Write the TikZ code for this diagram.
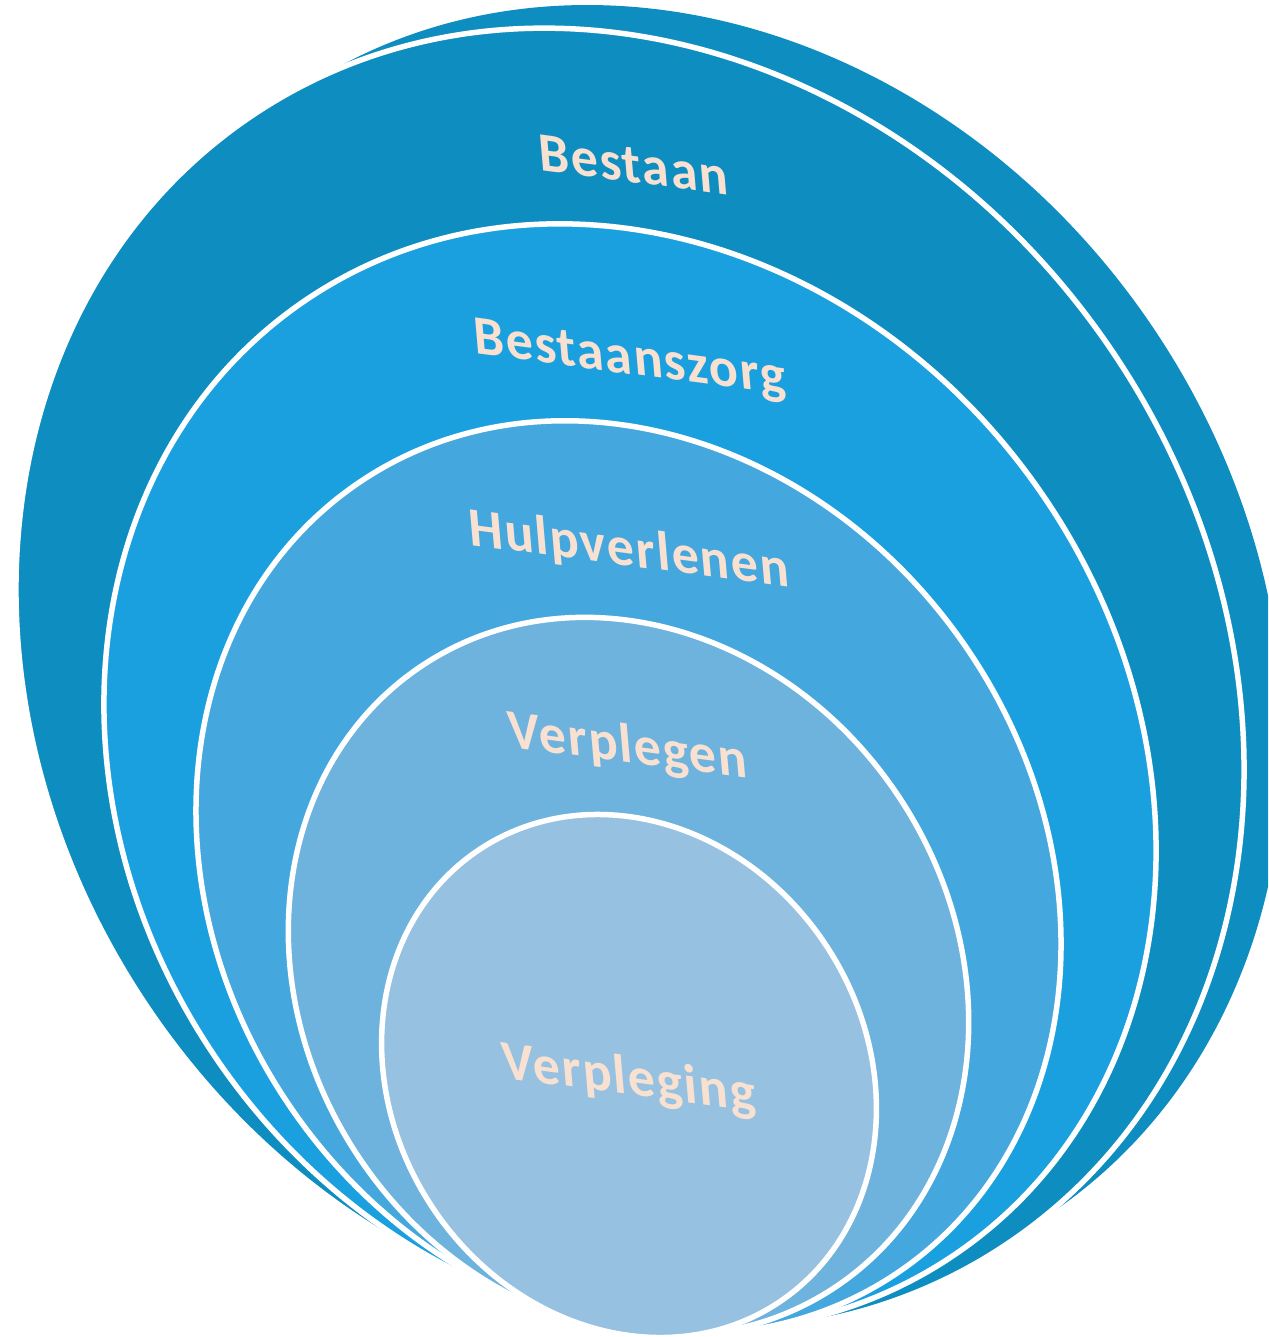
\documentclass[tikz,border=0pt]{standalone}
\usepackage{fontspec}
\newfontfamily\ringfont[LetterSpace=3]{Carlito}
\usetikzlibrary{shapes.geometric}

\definecolor{bestaancol}{HTML}{0E8DC0}
\definecolor{zorgcol}{HTML}{1BA0DF}
\definecolor{hulpcol}{HTML}{44A7DE}
\definecolor{verplegencol}{HTML}{6EB2DE}
\definecolor{verplegingcol}{HTML}{96C1E0}
\definecolor{labelcol}{HTML}{F9E1D2}

\tikzset{
  ring/.style={ellipse, draw=white, line width=0.11cm, inner sep=0pt},
  ringtext/.style={text=labelcol, font=\ringfont\bfseries\fontsize{31}{31}\selectfont,
    rotate=-7.5, xslant=-0.22}
}

\begin{document}
\begin{tikzpicture}[x=0.02cm,y=-0.02cm]
                \useasboundingbox (0,0) rectangle (1268,1337);
                \clip (0,0) rectangle (1268,1337);

                \node[ring, draw=none, fill=bestaancol, minimum width=23.19cm, minimum height=27.03cm, rotate=33.5] (back) at (673.4,653) {};
                \node[ring, fill=bestaancol, minimum width=23.34cm, minimum height=27.16cm, rotate=33.5] (bestaanring) at (630,679.5) {};
                \node[ring, fill=zorgcol, minimum width=20.01cm, minimum height=23.09cm, rotate=34.5] (zorgring) at (630,777.5) {};
                \node[ring, fill=hulpcol, minimum width=16.35cm, minimum height=19.13cm, rotate=34.8] (hulpring) at (628.5,877.5) {};
                \node[ring, fill=verplegencol, minimum width=12.99cm, minimum height=14.93cm, rotate=33.5] (verplegenring) at (628.5,976.5) {};
                \node[ring, fill=verplegingcol, minimum width=9.46cm, minimum height=10.86cm, rotate=33.1] (verplegingring) at (629,1076) {};

                \node[ringtext] (bestaan) at (633.5,165) {Bestaan};
                \node[ringtext] (bestaanszorg) at (630,361) {Bestaanszorg};
                \node[ringtext] (hulpverlenen) at (629,551) {Hulpverlenen};
                \node[ringtext] (verplegen) at (628,748) {Verplegen};
                \node[ringtext] (verpleging) at (629,1080) {Verpleging};
            \end{tikzpicture}
\end{document}
